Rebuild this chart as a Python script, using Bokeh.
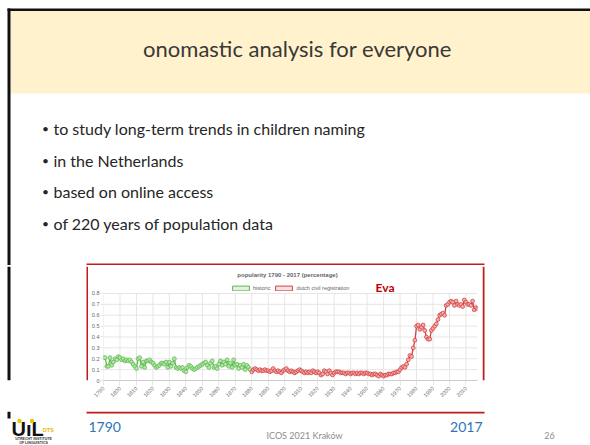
from math import pi
from bokeh.plotting import figure
from bokeh.models import Range1d, LinearAxis, FixedTicker, Label, Legend, LegendItem
from bokeh.layouts import column, row
from bokeh.embed import file_html
from bokeh.resources import INLINE
from bokeh.core.properties import value

# ---------------- texts ----------------
slide_title = "onomastic analysis for everyone"
bullets = [
    "to study long-term trends in children naming",
    "in the Netherlands",
    "based on online access",
    "of 220 years of population data",
]
chart_title = "popularity 1790 - 2017 (percentage)"
series_names = ["historic", "dutch civil registration"]
name_label = "Eva"
start_label = "1790"
end_label = "2017"
footer_text = "ICOS 2021 Kraków"
page_number = "26"
logo_main = "UıL"
logo_side = "OTS"
logo_lines = ["UTRECHT INSTITUTE", "OF LINGUISTICS"]

# ---------------- data ----------------
years_historic = list(range(1790, 1880))
share_historic = [
    0.21, 0.21, 0.13, 0.13, 0.21, 0.14, 0.17, 0.20, 0.19, 0.22,
    0.21, 0.19, 0.20, 0.18, 0.19, 0.18, 0.19, 0.17, 0.15, 0.13,
    0.11, 0.20, 0.21, 0.13, 0.17, 0.12, 0.18, 0.18, 0.19, 0.17,
    0.16, 0.14, 0.12, 0.13, 0.14, 0.16, 0.16, 0.15, 0.17, 0.12,
    0.17, 0.13, 0.16, 0.20, 0.12, 0.11, 0.12, 0.11, 0.12, 0.09,
    0.08, 0.12, 0.14, 0.13, 0.11, 0.10, 0.11, 0.12, 0.13, 0.14,
    0.15, 0.16, 0.17, 0.14, 0.12, 0.16, 0.18, 0.12, 0.13, 0.11,
    0.15, 0.18, 0.14, 0.17, 0.15, 0.19, 0.13, 0.16, 0.12, 0.19,
    0.14, 0.15, 0.11, 0.14, 0.12, 0.15, 0.10, 0.14, 0.12, 0.10,
]
years_civil = list(range(1880, 2018))
share_civil = [
    0.08, 0.10, 0.11, 0.10, 0.09, 0.10, 0.09, 0.09, 0.10, 0.09,
    0.09, 0.08, 0.09, 0.11, 0.09, 0.08, 0.09, 0.08, 0.07, 0.09,
    0.10, 0.11, 0.09, 0.08, 0.09, 0.08, 0.07, 0.08, 0.09, 0.10,
    0.09, 0.08, 0.07, 0.08, 0.07, 0.08, 0.07, 0.09, 0.08, 0.07,
    0.08, 0.07, 0.05, 0.06, 0.09, 0.08, 0.06, 0.09, 0.07, 0.05,
    0.07, 0.08, 0.08, 0.08, 0.07, 0.07, 0.07, 0.06, 0.07, 0.07,
    0.06, 0.07, 0.07, 0.06, 0.07, 0.06, 0.07, 0.07, 0.06, 0.07,
    0.07, 0.06, 0.06, 0.05, 0.06, 0.06, 0.05, 0.04, 0.06, 0.05,
    0.04, 0.05, 0.05, 0.06, 0.06, 0.06, 0.07, 0.07, 0.08, 0.08,
    0.10, 0.12, 0.13, 0.12, 0.15, 0.19, 0.23, 0.22, 0.30, 0.37,
    0.50, 0.51, 0.47, 0.49, 0.51, 0.46, 0.40, 0.38, 0.38, 0.46,
    0.48, 0.50, 0.52, 0.56, 0.60, 0.61, 0.62, 0.60, 0.69, 0.70,
    0.72, 0.73, 0.72, 0.69, 0.73, 0.70, 0.69, 0.70, 0.68, 0.74,
    0.72, 0.70, 0.70, 0.69, 0.73, 0.65, 0.67, 0.66,
]
year_ticks = [1790, 1800, 1810, 1820, 1830, 1840, 1850, 1860, 1870, 1880, 1890,
              1900, 1910, 1920, 1930, 1940, 1950, 1960, 1970, 1980, 1990, 2000, 2010]
share_ticks = [0, 0.1, 0.2, 0.3, 0.4, 0.5, 0.6, 0.7, 0.8]

# ---------------- styles ----------------
BLACK = "#111111"
BEIGE = "#fff2cc"
RED_BOX = "#c41a1a"
GREEN = "#5cbd4c"
GREEN_FILL = "#b9e4b0"
RED = "#d64040"
RED_FILL = "#f0b0b0"
GRID = "#e6e6e6"
TICK_TXT = "#666666"
TEXT = "#262626"
BLUE = "#2e75b6"
YELLOW = "#f2c200"
FONT = "Lato"


def slide_fig(x0, x1, y0, y1):
    p = figure(width=x1 - x0, height=y1 - y0,
               x_range=Range1d(x0, x1), y_range=Range1d(y1, y0),
               x_axis_type=None, y_axis_type=None,
               toolbar_location=None, output_backend="svg",
               min_border=0, outline_line_color=None,
               background_fill_color="white", border_fill_color="white")
    return p


# ---------------- top part of the slide ----------------
p_top = slide_fig(0, 590, 0, 265)
p_top.quad(left=[10], right=[590], top=[10.5], bottom=[93], fill_color=BEIGE, line_color=None)
p_top.quad(left=[7], right=[590], top=[8], bottom=[10.5], fill_color=BLACK, line_color=None)
p_top.quad(left=[7], right=[10], top=[8], bottom=[265], fill_color=BLACK, line_color=None)
p_top.quad(left=[86], right=[484], top=[263], bottom=[265], fill_color=RED_BOX, line_color=None)
p_top.text(x=[297], y=[48], text=[slide_title], text_font=value(FONT), text_font_size="22px",
           text_align="center", text_baseline="middle", text_color="#383838")
bullet_y = [128, 160, 191, 223]
p_top.text(x=[45] * 4, y=bullet_y, text=["•"] * 4, text_font=value(FONT), text_font_size="12px",
           text_align="center", text_baseline="middle", text_color=TEXT)
p_top.text(x=[53] * 4, y=bullet_y, text=bullets, text_font=value(FONT), text_font_size="16px",
           text_align="left", text_baseline="middle", text_color=TEXT)

# ---------------- middle row ----------------
p_left = slide_fig(0, 88, 265, 411)
p_left.quad(left=[7], right=[10], top=[265], bottom=[411], fill_color=BLACK, line_color=None)
p_left.quad(left=[86], right=[88], top=[265], bottom=[411], fill_color=RED_BOX, line_color=None)

p_right = slide_fig(482, 590, 265, 411)
p_right.quad(left=[482], right=[484], top=[265], bottom=[411], fill_color=RED_BOX, line_color=None)

chart = figure(width=394, height=146,
               x_range=Range1d(1790, 2017), y_range=Range1d(0, 1.048),
               x_axis_type=None, y_axis_type=None,
               toolbar_location=None, output_backend="svg",
               min_border_left=12, min_border_right=5, min_border_top=1, min_border_bottom=31,
               outline_line_color=None, background_fill_color="white", border_fill_color="white")

# grid
chart.segment(x0=year_ticks, y0=[share_ticks[0]] * len(year_ticks),
              x1=year_ticks, y1=[share_ticks[-1]] * len(year_ticks),
              line_color=GRID, line_width=1)
chart.segment(x0=[years_historic[0]] * len(share_ticks), y0=share_ticks,
              x1=[years_civil[-1]] * len(share_ticks), y1=share_ticks,
              line_color=GRID, line_width=1)

xaxis = LinearAxis(ticker=FixedTicker(ticks=year_ticks), major_label_orientation=pi / 4,
                   axis_line_color="#cccccc", major_tick_out=5, major_tick_in=0,
                   major_tick_line_color=GRID, minor_tick_line_color=None,
                   major_label_text_font_size="5.5px", major_label_text_color=TICK_TXT,
                   major_label_text_font="Liberation Sans", major_label_standoff=2)
chart.add_layout(xaxis, "below")
yaxis = LinearAxis(ticker=FixedTicker(ticks=share_ticks), bounds=(0, 0.8),
                   axis_line_color=None, major_tick_out=3, major_tick_in=0,
                   major_tick_line_color=GRID, minor_tick_line_color=None,
                   major_label_text_font_size="5.5px", major_label_text_color=TICK_TXT,
                   major_label_text_font="Liberation Sans", major_label_standoff=1,
                   major_label_overrides={0: "0"})
chart.add_layout(yaxis, "left")

chart.line(years_historic, share_historic, line_color=GREEN, line_width=1.3)
chart.scatter(years_historic, share_historic, marker="circle", size=3.8,
              fill_color=GREEN_FILL, line_color=GREEN, line_width=0.8)
chart.line(years_civil, share_civil, line_color=RED, line_width=1.3)
chart.scatter(years_civil, share_civil, marker="circle", size=3.8,
              fill_color=RED_FILL, line_color=RED, line_width=0.8)

# zero-size boxes on the series, only used for the box-shaped legend keys
leg_h = chart.rect(x=years_historic, y=share_historic, width=0, height=0,
                   fill_color="#e3efe1", line_color=GREEN, line_width=1)
leg_c = chart.rect(x=years_civil, y=share_civil, width=0, height=0,
                   fill_color="#f4e2e2", line_color=RED, line_width=1)
legend = Legend(items=[LegendItem(label=value(series_names[0]), renderers=[leg_h]),
                       LegendItem(label=value(series_names[1]), renderers=[leg_c])],
                location=(127, 89), orientation="horizontal",
                glyph_width=21, glyph_height=6, label_height=6, label_width=10,
                label_standoff=2, spacing=3, padding=0, margin=0,
                label_text_font_size="5.5px", label_text_color=TICK_TXT,
                label_text_font="Liberation Sans",
                border_line_color=None, background_fill_alpha=0)
chart.add_layout(legend)

chart.add_layout(Label(x=184, y=105.5, x_units="screen", y_units="screen", text=chart_title,
                       text_font="Liberation Sans", text_font_style="bold", text_font_size="6px",
                       text_color=TICK_TXT, text_align="center", text_baseline="middle"))
chart.add_layout(Label(x=272, y=93, x_units="screen", y_units="screen", text=name_label,
                       text_font=FONT, text_font_style="bold", text_font_size="12px",
                       text_color="#c00000", text_align="left", text_baseline="middle"))

# ---------------- bottom part ----------------
p_bot = slide_fig(0, 590, 411, 445)
p_bot.quad(left=[86], right=[484], top=[411], bottom=[413], fill_color=RED_BOX, line_color=None)
p_bot.quad(left=[7], right=[10], top=[411], bottom=[418], fill_color=BLACK, line_color=None)
p_bot.text(x=[88], y=[426], text=[start_label], text_font=value(FONT), text_font_size="14px",
           text_align="left", text_baseline="middle", text_color=BLUE)
p_bot.text(x=[482], y=[426], text=[end_label], text_font=value(FONT), text_font_size="14px",
           text_align="right", text_baseline="middle", text_color=BLUE)
p_bot.text(x=[304], y=[434.5], text=[footer_text], text_font=value(FONT), text_font_size="9px",
           text_align="center", text_baseline="middle", text_color="#8c8c8c")
p_bot.text(x=[549], y=[434.5], text=[page_number], text_font=value(FONT), text_font_size="9px",
           text_align="center", text_baseline="middle", text_color="#8c8c8c")
# logo
p_bot.text(x=[11], y=[428.5], text=[logo_main], text_font=value("Liberation Sans"), text_font_size="20px",
           text_font_style="bold", text_align="left", text_baseline="middle", text_color=BLACK)
p_bot.scatter(x=[19, 31.5], y=[420.5, 420.5], marker="circle", size=4.5,
              fill_color=YELLOW, line_color=None)
p_bot.text(x=[42], y=[429], text=[logo_side], text_font=value("Liberation Sans"), text_font_size="5.5px",
           text_font_style="bold", text_align="left", text_baseline="middle", text_color="#e8b400")
p_bot.text(x=[33, 33], y=[438.5, 442.5], text=logo_lines, text_font=value("Liberation Sans"),
           text_font_size="3.6px", text_font_style="bold", text_align="center", text_baseline="middle",
           text_color="#333333")

layout = column(p_top, row(p_left, chart, p_right, spacing=0), p_bot, spacing=0)

open("out.html", "w").write(file_html(layout, INLINE))
